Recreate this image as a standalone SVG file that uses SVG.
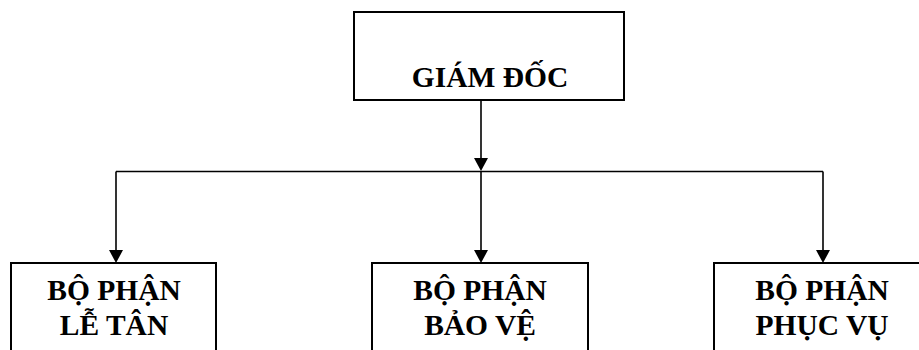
<svg xmlns="http://www.w3.org/2000/svg" width="919" height="350" viewBox="0 0 919 350">
  <style>
    .box { fill: #ffffff; stroke: #000000; stroke-width: 2; }
    .lbl { font-family: "Liberation Serif", "Times New Roman", serif; font-weight: bold; font-size: 29.5px; fill: #000000; text-anchor: middle; }
    .wire { fill: none; stroke: #000000; stroke-width: 1.6; }
    .head { fill: #000000; }
  </style>
  <defs>
    <!-- downward arrowhead, tip at (0,0) -->
    <path id="head" class="head" d="M-7,-13 L7,-13 L0,0 Z"/>
  </defs>

  <rect width="919" height="350" fill="#ffffff"/>

  <!-- connectors -->
  <g id="connectors">
    <line class="wire" x1="481" y1="101" x2="481" y2="162"/>
    <path class="wire" d="M116,171.5 H823"/>
    <line class="wire" x1="116" y1="171.5" x2="116" y2="254"/>
    <line class="wire" x1="481" y1="171.5" x2="481" y2="254"/>
    <line class="wire" x1="823" y1="171.5" x2="823" y2="254"/>
    <use href="#head" x="481" y="171"/>
    <use href="#head" x="116" y="263"/>
    <use href="#head" x="481" y="263"/>
    <use href="#head" x="823" y="263"/>
  </g>

  <!-- top node -->
  <g id="giam-doc">
    <rect class="box" x="354" y="12" width="270" height="88"/>
    <text class="lbl" x="490" y="87">GIÁM ĐỐC</text>
  </g>

  <!-- department nodes -->
  <g id="le-tan">
    <rect class="box" x="11" y="263" width="205" height="100"/>
    <text class="lbl" x="114" y="300">BỘ PHẬN</text>
    <text class="lbl" x="114" y="335">LỄ TÂN</text>
  </g>

  <g id="bao-ve">
    <rect class="box" x="372" y="263" width="216" height="100"/>
    <text class="lbl" x="480" y="300">BỘ PHẬN</text>
    <text class="lbl" x="480" y="335">BẢO VỆ</text>
  </g>

  <g id="phuc-vu">
    <rect class="box" x="714" y="263" width="230" height="100"/>
    <text class="lbl" x="822" y="300">BỘ PHẬN</text>
    <text class="lbl" x="822" y="335">PHỤC VỤ</text>
  </g>
</svg>
